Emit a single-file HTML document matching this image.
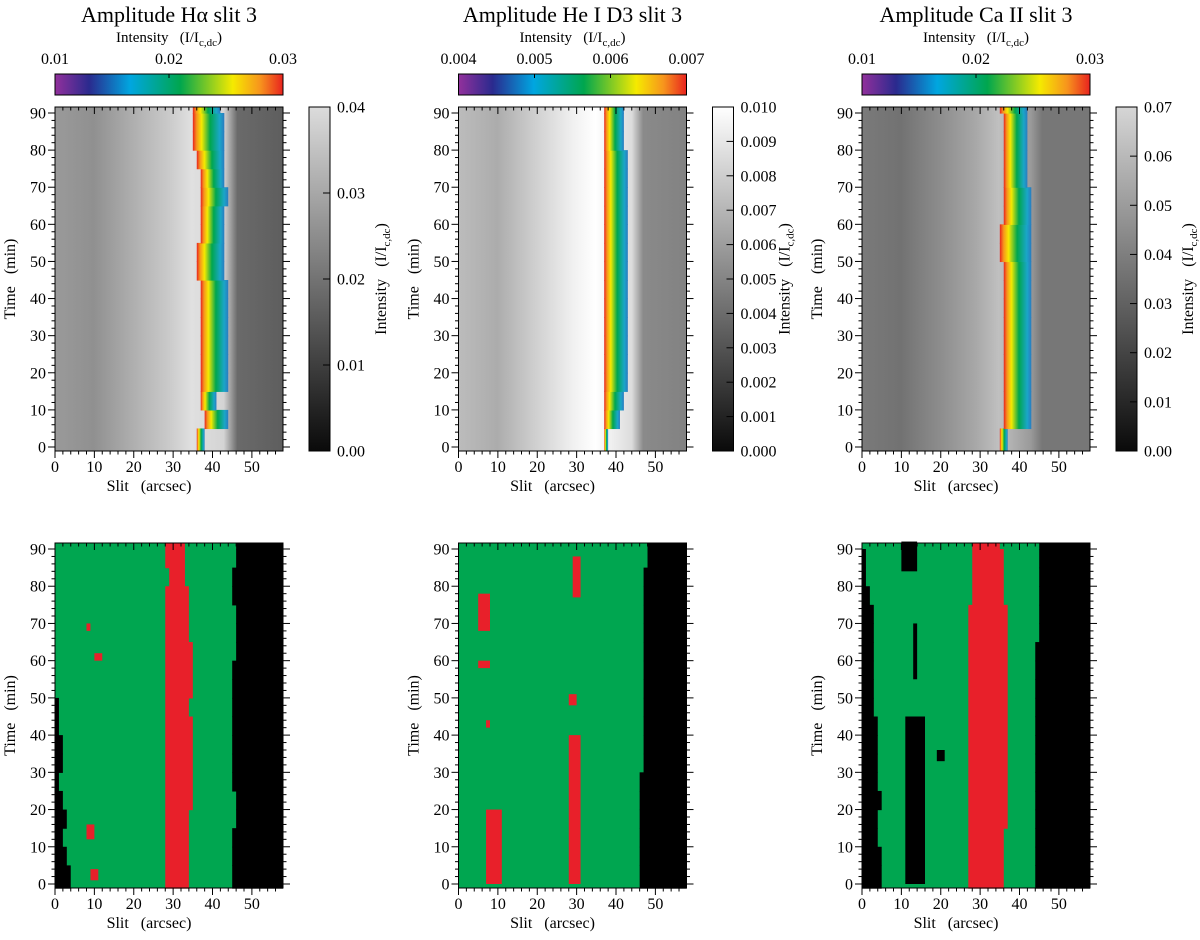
<!DOCTYPE html>
<html><head><meta charset="utf-8">
<style>
body{margin:0;background:#fff;}
svg{display:block;font-family:"Liberation Serif",serif;}
</style></head>
<body>
<svg id="fig" width="1200" height="940" viewBox="0 0 1200 940" xmlns="http://www.w3.org/2000/svg">
<defs>
<linearGradient id="rainbow" x1="0" x2="1" y1="0" y2="0">
<stop offset="0" stop-color="#92309c"/><stop offset="0.15" stop-color="#2a2a8e"/><stop offset="0.33" stop-color="#00a6e0"/><stop offset="0.55" stop-color="#00a64e"/><stop offset="0.78" stop-color="#f5ea00"/><stop offset="0.9" stop-color="#f7941d"/><stop offset="1" stop-color="#e8231f"/>
</linearGradient>
<linearGradient id="strip" x1="0" x2="1" y1="0" y2="0">
<stop offset="0" stop-color="#e8231f"/><stop offset="0.12" stop-color="#f7941d"/><stop offset="0.28" stop-color="#f5ea00"/><stop offset="0.55" stop-color="#00a64e"/><stop offset="0.85" stop-color="#1aa6c8"/><stop offset="1" stop-color="#2a7bc0"/>
</linearGradient>
<linearGradient id="gray0" x1="0" x2="0" y1="1" y2="0"><stop offset="0" stop-color="#0a0a0a"/><stop offset="1" stop-color="#dcdcdc"/></linearGradient>
<linearGradient id="gray1" x1="0" x2="0" y1="1" y2="0"><stop offset="0" stop-color="#0a0a0a"/><stop offset="1" stop-color="#ffffff"/></linearGradient>
<linearGradient id="gray2" x1="0" x2="0" y1="1" y2="0"><stop offset="0" stop-color="#0a0a0a"/><stop offset="1" stop-color="#d6d6d6"/></linearGradient>
<linearGradient id="bg0" x1="0" x2="1" y1="0" y2="0">
<stop offset="0" stop-color="#9a9a9a"/><stop offset="0.17" stop-color="#909090"/><stop offset="0.35" stop-color="#b0b0b0"/><stop offset="0.5" stop-color="#cacaca"/><stop offset="0.6" stop-color="#e0e0e0"/><stop offset="0.74" stop-color="#d4d4d4"/><stop offset="0.8" stop-color="#6a6a6a"/><stop offset="1" stop-color="#5e5e5e"/></linearGradient>
<linearGradient id="bg1" x1="0" x2="1" y1="0" y2="0">
<stop offset="0" stop-color="#bcbcbc"/><stop offset="0.17" stop-color="#acacac"/><stop offset="0.35" stop-color="#d2d2d2"/><stop offset="0.5" stop-color="#f0f0f0"/><stop offset="0.6" stop-color="#ffffff"/><stop offset="0.76" stop-color="#dcdcdc"/><stop offset="0.81" stop-color="#8a8a8a"/><stop offset="1" stop-color="#828282"/></linearGradient>
<linearGradient id="bg2" x1="0" x2="1" y1="0" y2="0">
<stop offset="0" stop-color="#7a7a7a"/><stop offset="0.17" stop-color="#727272"/><stop offset="0.35" stop-color="#8e8e8e"/><stop offset="0.5" stop-color="#a8a8a8"/><stop offset="0.6" stop-color="#c0c0c0"/><stop offset="0.74" stop-color="#9a9a9a"/><stop offset="0.79" stop-color="#777"/><stop offset="1" stop-color="#777"/></linearGradient>
</defs>
<g id="root"></g>
</svg>
<script>
// ---- data ----
const titles = ["Amplitude H\u03b1 slit 3", "Amplitude He I D3 slit 3", "Amplitude Ca II slit 3"];
const cbTicks = [["0.01","0.02","0.03"], ["0.004","0.005","0.006","0.007"], ["0.01","0.02","0.03"]];
const grayTicks = [["0.00","0.01","0.02","0.03","0.04"],
  ["0.000","0.001","0.002","0.003","0.004","0.005","0.006","0.007","0.008","0.009","0.010"],
  ["0.00","0.01","0.02","0.03","0.04","0.05","0.06","0.07"]];
const xTicks = [0,10,20,30,40,50];
const yTicks = [0,10,20,30,40,50,60,70,80,90];
const times = [-1,5,10,15,20,25,30,35,40,45,50,55,60,65,70,75,80,85,90];
// top strips: left & right edge (arcsec) of coloured region
const stripL = [
 [36,38,37,37,37,37,37,37,37,36,36,37,37,37,37,36,35,35,35],
 [37,37,37,37,37,37,37,37,37,37,37,37,37,37,37,37,37,37,37],
 [35,36,36,36,36,36,36,36,36,36,35,35,36,36,36,36,36,36,35]];
const stripR = [
 [38,44,41,44,44,44,44,44,44,43,43,43,43,44,43,43,43,43,42],
 [38,41,42,43,43,43,43,43,43,43,43,43,43,43,43,43,42,42,42],
 [37,43,43,43,43,43,43,43,43,43,43,43,43,43,42,42,42,42,42]];
// bottom panels: left black edge, red band, right black start
const blackL = [
 [4,3,2,3,2,1,2,2,1,1,0,0,0,0,0,0,0,0,0],
 [0,0,0,0,0,0,0,0,0,0,0,0,0,0,0,0,0,0,0],
 [5,5,4,4,5,4,4,4,4,3,3,3,3,3,3,2,1,1,0]];
const redL = [
 [28,28,28,28,28,28,28,28,28,28,28,28,28,28,28,28,29,28,28],
 [0,0,0,0,0,0,0,0,0,0,0,0,0,0,0,0,0,0,0],
 [27,27,27,27,27,27,27,27,27,27,27,27,27,27,27,28,28,28,28]];
const redR = [
 [34,34,34,34,35,35,35,35,35,34,35,35,35,34,34,34,33,33,33],
 [0,0,0,0,0,0,0,0,0,0,0,0,0,0,0,0,0,0,0],
 [36,36,36,37,37,37,37,37,37,37,37,37,37,37,37,36,36,36,35]];
const blackR = [
 [45,45,45,46,46,45,45,45,45,45,45,45,46,46,46,45,45,46,46],
 [46,46,46,46,46,46,47,47,47,47,47,47,47,47,47,47,47,48,48],
 [44,44,44,44,44,44,44,44,44,44,44,44,44,45,45,45,45,45,45]];
// extra patches [panel, x0, x1, t0, t1, color]
const patches = [
 [0,9,11,1,4,"red"],[0,8,10,12,16,"red"],[0,10,12,60,62,"red"],[0,8,9,68,70,"red"],
 [1,7,11,0,20,"red"],[1,5,8,58,60,"red"],[1,5,8,68,78,"red"],[1,7,8,42,44,"red"],
 [1,28,31,0,40,"red"],[1,29,31,77,88,"red"],[1,28,30,48,51,"red"],
 [2,11,16,0,45,"black"],[2,10,14,84,92,"black"],[2,13,14,55,70,"black"],[2,19,21,33,36,"black"]
];
// ---- drawing ----
const NS="http://www.w3.org/2000/svg";
const root=document.getElementById('root');
function el(tag,attrs,parent,txt){const e=document.createElementNS(NS,tag);for(const k in attrs)e.setAttribute(k,attrs[k]);if(txt!==undefined)e.textContent=txt;(parent||root).appendChild(e);return e;}
const PX=[55,458.5,862], PW=228;
const xMin=0,xMax=57.9;
function xs(p,v){return PX[p]+(v-xMin)/(xMax-xMin)*PW;}
const TOP=[107,543], BOT=[451,888];
function ys(r,v){const y0=r?884:447, y90=r?549:113;return y0+(y90-y0)*v/90;}
const colors={red:"#e8202a",black:"#000",green:"#00a650"};

for(let p=0;p<3;p++){
  const t=el('text',{x:PX[p]+PW/2,y:22,'text-anchor':'middle','font-size':22},root,titles[p]);
  
  const st=el('text',{x:PX[p]+PW/2,y:42,'text-anchor':'middle','font-size':15},root);
  
  st.innerHTML='Intensity\u00a0\u00a0\u00a0(I/I<tspan font-size="11" dy="4">c,dc</tspan><tspan dy="-4">)</tspan>';
  const cb=el('rect',{x:PX[p],y:74,width:PW,height:21,fill:'url(#rainbow)',stroke:'#000','stroke-width':1});
  
  const n=cbTicks[p].length;
  cbTicks[p].forEach((s,i)=>{const x=PX[p]+PW*i/(n-1);
    const tl=el('text',{x:x,y:64,'text-anchor':'middle','font-size':16},root,s);
    
    el('line',{x1:x,x2:x,y1:74,y2:78,stroke:'#000'});});
  for(let r=0;r<2;r++){
    const g=el('g',{});
    
    const y0=TOP[r],h=BOT[r]-TOP[r];
    if(r===0){
      el('rect',{x:PX[p],y:y0,width:PW,height:h,fill:'url(#bg'+p+')'},g);
      for(let i=0;i<times.length;i++){
        const tb=times[i], tt=i<times.length-1?times[i+1]:91.6;
        if(stripR[p][i]<=stripL[p][i])continue;
        const rc=el('rect',{x:xs(p,stripL[p][i]),y:ys(0,tt),width:xs(p,stripR[p][i])-xs(p,stripL[p][i]),height:ys(0,tb)-ys(0,tt)+0.6,fill:'url(#strip)'},g);
        
      }
    } else {
      el('rect',{x:PX[p],y:y0,width:PW,height:h,fill:colors.green},g);
      for(let i=0;i<times.length;i++){
        const tb=i===0?-1.1:times[i], tt=i<times.length-1?times[i+1]:91.6;
        const yt=ys(1,tt),hh=ys(1,tb)-ys(1,tt)+0.6;
        if(blackL[p][i]>0){const b=el('rect',{x:xs(p,0),y:yt,width:xs(p,blackL[p][i])-xs(p,0),height:hh,fill:'#000'},g);}
        if(redR[p][i]>redL[p][i]){const b=el('rect',{x:xs(p,redL[p][i]),y:yt,width:xs(p,redR[p][i])-xs(p,redL[p][i]),height:hh,fill:colors.red},g);}
        const b2=el('rect',{x:xs(p,blackR[p][i]),y:yt,width:PX[p]+PW-xs(p,blackR[p][i]),height:hh,fill:'#000'},g);
        
      }
      patches.filter(q=>q[0]===p).forEach(q=>{
        const b=el('rect',{x:xs(p,q[1]),y:ys(1,q[4]),width:xs(p,q[2])-xs(p,q[1]),height:ys(1,q[3])-ys(1,q[4]),fill:colors[q[5]]},g);
        });
    }
    el('rect',{x:PX[p],y:y0,width:PW,height:h,fill:'none',stroke:'#000','stroke-width':1},g);
    for(let v=0;v<=56;v+=2){const x=xs(p,v),L=v%10===0?7:3.5;
      el('line',{x1:x,x2:x,y1:BOT[r],y2:BOT[r]+L,stroke:'#000'});
      el('line',{x1:x,x2:x,y1:y0,y2:y0+L,stroke:'#000'});}
    for(let v=0;v<=90;v+=2){const y=ys(r,v),L=v%10===0?7:3.5;
      el('line',{x1:PX[p],x2:PX[p]-L,y1:y,y2:y,stroke:'#000'});
      el('line',{x1:PX[p]+PW,x2:PX[p]+PW+L,y1:y,y2:y,stroke:'#000'});}
    xTicks.forEach(v=>{const tl=el('text',{x:xs(p,v),y:BOT[r]+21,'text-anchor':'middle','font-size':16},root,String(v));
      });
    yTicks.forEach(v=>{const tl=el('text',{x:PX[p]-9,y:ys(r,v)+5.5,'text-anchor':'end','font-size':16},root,String(v));
      });
    const xt=el('text',{x:PX[p]+PW/2-20,y:BOT[r]+40,'text-anchor':'middle','font-size':16},root,'Slit\u00a0\u00a0\u00a0(arcsec)');
    
    const cy=(y0+BOT[r])/2;
    const yt=el('text',{x:0,y:0,'text-anchor':'middle','font-size':16,transform:'translate('+(PX[p]-40)+','+cy+') rotate(-90)'},root,'Time\u00a0\u00a0\u00a0(min)');
    
  }
  const gx=PX[p]+254;
  const gb=el('rect',{x:gx,y:107,width:21,height:344,fill:'url(#gray'+p+')',stroke:'#000'});
  
  const m=grayTicks[p].length;
  grayTicks[p].forEach((s,i)=>{const y=451-344*i/(m-1);
    el('line',{x1:gx+21,x2:gx+14,y1:y,y2:y,stroke:'#000'});
    const tl=el('text',{x:gx+28,y:y+5.5,'font-size':16},root,s);
    });
  const gt=el('text',{x:0,y:0,'text-anchor':'middle','font-size':16,transform:'translate('+(gx+77)+',279) rotate(-90)'},root);
  gt.innerHTML='Intensity\u00a0\u00a0\u00a0(I/I<tspan font-size="11" dy="4">c,dc</tspan><tspan dy="-4">)</tspan>';
  
}
</script>
</body></html>
